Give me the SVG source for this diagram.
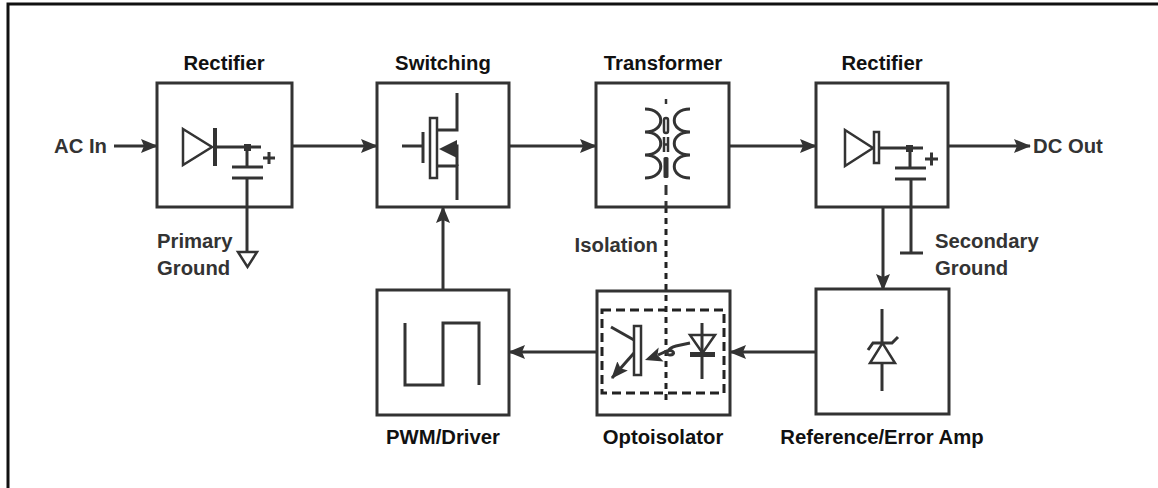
<svg xmlns="http://www.w3.org/2000/svg" width="1158" height="488" viewBox="0 0 1158 488">
<defs>
<style>
.box{fill:#fff;stroke:#333;stroke-width:3}
.ln{fill:none;stroke:#333;stroke-width:3}
.thin{fill:none;stroke:#333;stroke-width:2.5}
.fl{fill:#333;stroke:none}
.title{font-family:"Liberation Sans",Arial,sans-serif;font-weight:bold;font-size:20.3px;fill:#111;text-anchor:middle}
.lbl{font-family:"Liberation Sans",Arial,sans-serif;font-weight:bold;font-size:20.3px;fill:#333}
.iso{fill:none;stroke:#222;stroke-width:3;stroke-dasharray:6 5}
</style>
<marker id="ah" viewBox="0 0 17 14" refX="16" refY="7" markerWidth="17" markerHeight="14" orient="auto" markerUnits="userSpaceOnUse">
<path d="M0,0 L17,7 L0,14 L3,7 z" fill="#333"/>
</marker>
</defs>
<rect width="1158" height="488" fill="#fff"/>
<path d="M8,488 L8,4 L1158,4" fill="none" stroke="#111" stroke-width="3"/>

<g id="isolation-line">
<line class="iso" x1="666" y1="207" x2="666" y2="400"/>
<text class="lbl" x="658" y="252" text-anchor="end">Isolation</text>
</g>

<g id="connectors">
<line class="ln" x1="114" y1="146" x2="157" y2="146" marker-end="url(#ah)"/>
<line class="ln" x1="292" y1="146" x2="377" y2="146" marker-end="url(#ah)"/>
<line class="ln" x1="509" y1="146" x2="596" y2="146" marker-end="url(#ah)"/>
<line class="ln" x1="729" y1="146" x2="816" y2="146" marker-end="url(#ah)"/>
<line class="ln" x1="948" y1="146" x2="1030" y2="146" marker-end="url(#ah)"/>
<line class="ln" x1="883" y1="207" x2="883" y2="290" marker-end="url(#ah)"/>
<line class="ln" x1="443" y1="290" x2="443" y2="207" marker-end="url(#ah)"/>
<line class="ln" x1="816" y1="352" x2="730" y2="352" marker-end="url(#ah)"/>
<line class="ln" x1="597" y1="352" x2="509" y2="352" marker-end="url(#ah)"/>
</g>

<g id="ac-in"><text class="lbl" x="54" y="153">AC In</text></g>
<g id="dc-out"><text class="lbl" x="1033" y="153">DC Out</text></g>

<g id="rectifier1">
<text class="title" x="224" y="70">Rectifier</text>
<rect class="box" x="157" y="83" width="135" height="124"/>
<path class="thin" d="M183,129 L212,147 L183,165 Z"/>
<rect class="fl" x="213" y="128" width="4" height="38"/>
<line class="ln" x1="215" y1="147" x2="261" y2="147"/>
<rect class="fl" x="244" y="144" width="7" height="7"/>
<line class="ln" x1="247" y1="147" x2="247" y2="167"/>
<line class="ln" x1="232" y1="167" x2="263" y2="167"/>
<line class="ln" x1="232" y1="178" x2="263" y2="178"/>
<line class="ln" x1="247" y1="178" x2="247" y2="252"/>
<path class="thin" d="M238,252 L257,252 L247.5,267 Z"/>
<path class="ln" d="M263,158 L275,158 M269,152 L269,164" stroke-width="3.5"/>
<text class="lbl" x="157" y="248">Primary</text>
<text class="lbl" x="157" y="275">Ground</text>
</g>

<g id="switching">
<text class="title" x="443" y="70">Switching</text>
<rect class="box" x="377" y="83" width="132" height="124"/>
<line class="ln" x1="402" y1="146" x2="423" y2="146"/>
<line class="ln" x1="423" y1="132" x2="423" y2="163"/>
<rect class="thin" x="430" y="118" width="7" height="60"/>
<path class="ln" d="M437,130 L457,130 L457,93"/>
<path class="ln" d="M437,166 L457,166 L457,200"/>
<path class="ln" d="M450,146 L457,146 L457,166"/>
<path class="fl" d="M439,149 L457,140 L457,158 Z"/>
</g>

<g id="transformer">
<text class="title" x="663" y="70">Transformer</text>
<rect class="box" x="596" y="83" width="133" height="124"/>
<path class="ln" d="M645,109 C666,109 666,132 645,132 C666,132 666,155 645,155 C666,155 666,178 645,178"/>
<path class="ln" d="M690,109 C669,109 669,132 690,132 C669,132 669,155 690,155 C669,155 669,178 690,178"/>
<line class="thin" x1="666" y1="99" x2="666" y2="104"/>
<rect class="thin" x="664" y="118" width="4" height="15" rx="2"/>
<path class="thin" d="M664,137 L664,152 M668,137 L668,152 M664,144.5 L668,144.5"/>
<rect class="fl" x="663.5" y="157" width="5" height="21" rx="1.5"/>
<line class="ln" x1="666" y1="185" x2="666" y2="195"/>
<line class="ln" x1="666" y1="201" x2="666" y2="207"/>
</g>

<g id="rectifier2">
<text class="title" x="882" y="70">Rectifier</text>
<rect class="box" x="816" y="83" width="132" height="124"/>
<path class="thin" d="M845,130 L873,148 L845,166 Z"/>
<rect class="thin" x="874" y="132" width="5" height="31"/>
<line class="ln" x1="879" y1="148" x2="923" y2="148"/>
<rect class="fl" x="906" y="145" width="7" height="7"/>
<line class="ln" x1="910" y1="148" x2="910" y2="168"/>
<line class="ln" x1="895" y1="168" x2="926" y2="168"/>
<line class="ln" x1="895" y1="179" x2="926" y2="179"/>
<line class="ln" x1="911" y1="179" x2="911" y2="253"/>
<line class="ln" x1="900" y1="253" x2="923" y2="253"/>
<path class="ln" d="M925,159 L938,159 M931.5,152.5 L931.5,165.5" stroke-width="3.5"/>
<text class="lbl" x="935" y="248">Secondary</text>
<text class="lbl" x="935" y="275">Ground</text>
</g>

<g id="pwm-driver">
<rect class="box" x="377" y="290" width="132" height="125"/>
<path class="ln" d="M405,323 L405,385 L443,385 L443,323 L479,323 L479,385"/>
<text class="title" x="443" y="444">PWM/Driver</text>
</g>

<g id="optoisolator">
<rect x="597" y="291" width="133" height="124" fill="none" stroke="#333" stroke-width="3"/>
<rect x="602" y="310" width="122" height="83" fill="none" stroke="#222" stroke-width="3" stroke-dasharray="9 5"/>
<rect class="thin" x="634" y="326" width="7" height="49"/>
<line class="ln" x1="611" y1="327" x2="634" y2="340"/>
<line class="ln" x1="634" y1="353" x2="612" y2="378" marker-end="url(#ah)"/>
<path class="ln" d="M690,343 L676,346 C668,348 664,355 670,355 C676,355 674,349 667,351 L658,355"/>
<path class="fl" d="M645,360 L658.7,347.5 L657.5,355 L663.5,361.5 Z"/>
<line class="ln" x1="702" y1="323" x2="702" y2="379"/>
<path class="thin" d="M690,335 L715,335 L702.5,353 Z"/>
<rect class="fl" x="690" y="352" width="25" height="5"/>
<text class="title" x="663" y="444">Optoisolator</text>
</g>

<g id="reference-error-amp">
<rect class="box" x="816" y="289" width="133" height="125"/>
<line class="ln" x1="882" y1="309" x2="882" y2="343"/>
<line class="ln" x1="882" y1="363" x2="882" y2="391"/>
<path class="thin" d="M870,363 L895,363 L882.5,343 Z"/>
<path class="ln" d="M868,350 L873,343 L892,343 L898,337"/>
<text class="title" x="882" y="444">Reference/Error Amp</text>
</g>
</svg>
